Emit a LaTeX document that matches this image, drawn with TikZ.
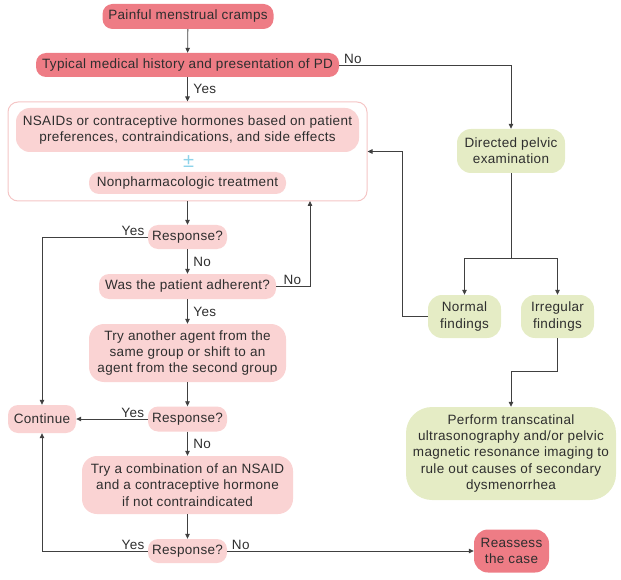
\documentclass[tikz,border=0pt]{standalone}
\usepackage{fontspec}
\setmainfont{Liberation Sans}[LetterSpace=2.5]
\usetikzlibrary{arrows.meta,positioning}
\definecolor{pinkdark}{HTML}{EE7C85}
\definecolor{pinklight}{HTML}{FAD3D3}
\definecolor{greenc}{HTML}{E5ECC5}
\definecolor{pinkborder}{HTML}{F5C6C6}
\definecolor{pmblue}{HTML}{8DD3EA}
\definecolor{linec}{HTML}{404040}
\definecolor{textc}{HTML}{2E2E2E}
\begin{document}
\begin{tikzpicture}[x=1pt,y=-1pt,
  every node/.style={font=\fontsize{13.5}{16.2}\selectfont, text=textc},
  box/.style={inner sep=0pt, align=center, rounded corners=10pt},
  darkbox/.style={box, fill=pinkdark},
  lightbox/.style={box, fill=pinklight},
  greenbox/.style={box, fill=greenc},
  arr/.style={draw=linec, line width=0.8pt, -{Triangle[length=5pt,width=4.5pt]}},
  lbl/.style={inner sep=1pt}
]
\useasboundingbox (0,0) rectangle (621,580);
% outer box
\node[draw=pinkborder, line width=1pt, fill=white, rounded corners=10pt, minimum width=359pt, minimum height=99pt, inner sep=0pt] (outer) at (187.5,151.5) {};
% nodes
\node[darkbox, minimum width=171pt, minimum height=25pt] (painful) at (188,16.5) {Painful menstrual cramps};
\node[darkbox, minimum width=303pt, minimum height=24pt] (typical) at (187.5,65) {Typical medical history and presentation of PD};
\node[lightbox, rounded corners=14pt, minimum width=343pt, minimum height=44pt] (nsaids) at (187.5,130) {NSAIDs or contraceptive hormones based on patient\\preferences, contraindications, and side effects};
\node[text=pmblue, inner sep=0pt, font=\fontsize{20}{20}\selectfont] (pm) at (188.5,162) {±};
\node[lightbox, minimum width=197pt, minimum height=22pt] (nonpharm) at (187.5,183) {Nonpharmacologic treatment};
\node[lightbox, minimum width=79pt, minimum height=24pt] (resp1) at (187.5,237) {Response?};
\node[lightbox, minimum width=177pt, minimum height=25pt] (adherent) at (187.5,286.5) {Was the patient adherent?};
\node[lightbox, rounded corners=15pt, minimum width=197pt, minimum height=58pt] (tryanother) at (187.5,353) {Try another agent from the\\same group or shift to an\\agent from the second group};
\node[lightbox, minimum width=79pt, minimum height=25pt] (resp2) at (187.5,419) {Response?};
\node[lightbox, minimum width=68pt, minimum height=28pt] (continue) at (42,419) {Continue};
\node[lightbox, rounded corners=15pt, minimum width=211pt, minimum height=58pt] (combo) at (187.5,485) {Try a combination of an NSAID\\and a contraceptive hormone\\if not contraindicated};
\node[lightbox, minimum width=79pt, minimum height=24pt] (resp3) at (187.5,551) {Response?};
\node[darkbox, rounded corners=14pt, minimum width=75pt, minimum height=43pt] (reassess) at (511.5,551) {Reassess\\the case};
\node[greenbox, rounded corners=14pt, minimum width=108pt, minimum height=44pt] (directed) at (511,151) {Directed pelvic\\examination};
\node[greenbox, rounded corners=14pt, minimum width=73pt, minimum height=43pt] (normal) at (464.5,316.5) {Normal\\findings};
\node[greenbox, rounded corners=14pt, minimum width=73pt, minimum height=43pt] (irregular) at (557.5,316.5) {Irregular\\findings};
\node[greenbox, rounded corners=26pt, minimum width=210pt, minimum height=93pt] (perform) at (511,453.5) {Perform transcatinal\\ultrasonography and/or pelvic\\magnetic resonance imaging to\\rule out causes of secondary\\dysmenorrhea};
\coordinate (backin) at (310,201);
% connectors
\draw[arr] (painful) -- (typical);
\draw[arr] (typical) -- node[lbl, right, xshift=4.5pt]{Yes} (outer);
\draw[arr] (typical.east) -| node[lbl, above, pos=0.04]{No} (directed.north);
\draw[arr] (outer.south) -- (resp1.north);
\draw[arr] (resp1) -- node[lbl, right, xshift=4.5pt]{No} (adherent);
\draw[arr] (resp1.west) -| node[lbl, above, pos=0.07]{Yes} (continue.north);
\draw[arr] (adherent.east) -| node[lbl, above, pos=0.24]{No} (backin);
\draw[arr] (adherent) -- node[lbl, right, xshift=4.5pt]{Yes} (tryanother);
\draw[arr] (tryanother) -- (resp2);
\draw[arr] (resp2.west) -- node[lbl, above, pos=0.21]{Yes} (continue.east);
\draw[arr] (resp2) -- node[lbl, right, xshift=4.5pt]{No} (combo);
\draw[arr] (combo) -- (resp3);
\draw[arr] (resp3.west) -| node[lbl, above, pos=0.07]{Yes} (continue.south);
\draw[arr] (resp3.east) -- node[lbl, above, pos=0.055]{No} (reassess.west);
\draw[arr] (directed.south) -- ++(0,85) -| (normal.north);
\draw[arr] (directed.south) -- ++(0,85) -| (irregular.north);
\draw[arr] (normal.west) -- ++(-25,0) |- (outer.east);
\draw[arr] (irregular.south) -- ++(0,33) -| (perform.north);
\end{tikzpicture}
\end{document}
